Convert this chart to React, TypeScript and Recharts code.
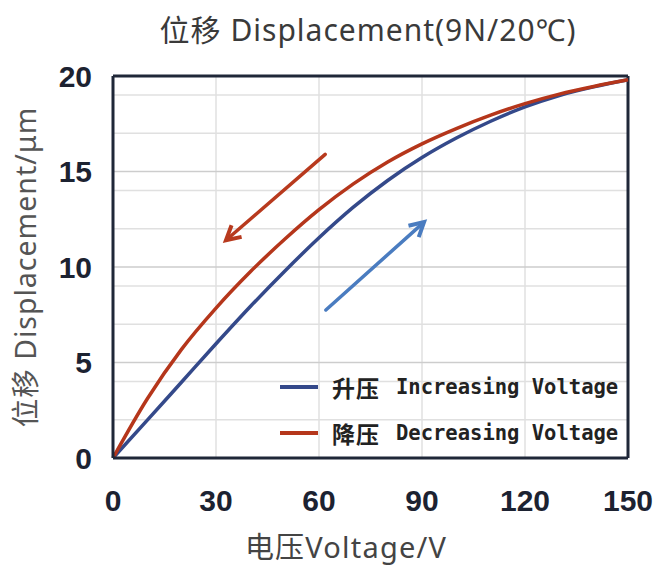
import {
  CartesianGrid,
  Legend,
  Line,
  LineChart,
  ReferenceLine,
  XAxis,
  YAxis,
} from "recharts";

// voltage (V) sampled every 10 V
const VOLTAGE = [0, 10, 20, 30, 40, 50, 60, 70, 80, 90, 100, 110, 120, 130, 140, 150];
// displacement (µm) while raising the voltage
const INCREASING = [0, 1.98, 3.98, 5.98, 7.93, 9.78, 11.53, 13.13, 14.53, 15.73, 16.75, 17.63, 18.38, 18.98, 19.43, 19.8];
// displacement (µm) while lowering the voltage
const DECREASING = [0, 3.1, 5.7, 7.85, 9.75, 11.45, 13.0, 14.35, 15.5, 16.45, 17.25, 17.95, 18.55, 19.05, 19.45, 19.8];

const X_TICKS = [0, 30, 60, 90, 120, 150];
const Y_TICKS = [0, 5, 10, 15, 20];
const Y_MINOR = [1, 2, 3, 4, 6, 7, 8, 9, 11, 12, 13, 14, 16, 17, 18, 19];
const Y_MAJOR = [5, 10, 15];

// direction arrows, in data units: [fromV, fromD, toV, toD]
const DOWN_ARROW = [61.8, 15.9, 32.9, 11.4];
const UP_ARROW = [62, 7.75, 90.6, 12.35];

const SERIES = [
  { key: "inc", cjk: "升压", en: "Increasing Voltage", color: "#34498a" },
  { key: "dec", cjk: "降压", en: "Decreasing Voltage", color: "#b5361b" },
];

const data = VOLTAGE.map((v, i) => ({ v, inc: INCREASING[i], dec: DECREASING[i] }));

const BORDER = "#1f2738";
const TICK = { fill: "#1c2231", fontSize: 30, fontWeight: 700, fontFamily: "Liberation Sans, Arial, sans-serif" };
const LABEL_FONT = "'Noto Sans', 'Noto Sans CJK SC', sans-serif";

function arrowShape(color: string) {
  return (p: any) => {
    const { x1, y1, x2, y2 } = p;
    const a = Math.atan2(y2 - y1, x2 - x1);
    const len = 16;
    const spread = 0.5;
    const ax = x2 - len * Math.cos(a - spread);
    const ay = y2 - len * Math.sin(a - spread);
    const bx = x2 - len * Math.cos(a + spread);
    const by = y2 - len * Math.sin(a + spread);
    return (
      <g>
        <line x1={x1} y1={y1} x2={x2 - 3 * Math.cos(a)} y2={y2 - 3 * Math.sin(a)} stroke={color} strokeWidth={3.5} strokeLinecap="round" />
        <polyline points={`${ax},${ay} ${x2},${y2} ${bx},${by}`} fill="none" stroke={color} strokeWidth={4} strokeLinejoin="miter" />
      </g>
    );
  };
}

function LegendBox() {
  return (
    <div style={{ fontFamily: "'DejaVu Sans Mono', 'Noto Sans CJK SC', monospace", fontWeight: 700, fontSize: 20.5, color: "#222" }}>
      {SERIES.map((s) => (
        <div key={s.key} style={{ display: "flex", alignItems: "center", height: 46 }}>
          <svg width={52} height={10}>
            <line x1={0} y1={5} x2={38} y2={5} stroke={s.color} strokeWidth={4} />
          </svg>
          <span style={{ fontSize: 23, fontFamily: "'Noto Sans CJK SC', sans-serif", letterSpacing: 1, width: 64 }}>{s.cjk}</span>
          <span style={{ whiteSpace: "pre" }}>{s.en}</span>
        </div>
      ))}
    </div>
  );
}

export default function App() {
  return (
    <div style={{ position: "absolute", left: 0, top: 0, width: 660, height: 566, background: "#fff" }}>
      <div
        style={{
          position: "absolute",
          left: 0,
          width: 736,
          top: 6,
          textAlign: "center",
          fontFamily: LABEL_FONT,
          fontSize: 30,
          letterSpacing: 1,
          color: "#3a3a3a",
          whiteSpace: "nowrap",
        }}
      >
        位移 Displacement(9N/20℃)
      </div>
      <LineChart width={660} height={566} data={data} margin={{ top: 76, right: 32, left: 0, bottom: 0 }}>
        <CartesianGrid horizontalValues={Y_MINOR} verticalValues={X_TICKS} stroke="#e0e0e0" strokeWidth={1.5} />
        {Y_MAJOR.map((y) => (
          <ReferenceLine key={y} y={y} stroke="#cdcdcd" strokeWidth={1.5} />
        ))}
        <XAxis
          dataKey="v"
          type="number"
          domain={[0, 150]}
          ticks={X_TICKS}
          height={108}
          tick={TICK}
          tickLine={false}
          tickSize={0}
          tickMargin={32}
          axisLine={{ stroke: BORDER, strokeWidth: 3 }}
          label={{
            content: () => (
              <text x={346} y={558} textAnchor="middle" fontFamily={LABEL_FONT} fontSize={29} letterSpacing={1.2} fill="#444">
                电压Voltage/V
              </text>
            ),
          }}
        />
        <YAxis
          type="number"
          domain={[0, 20]}
          ticks={Y_TICKS}
          width={113}
          tick={TICK}
          tickLine={false}
          tickSize={0}
          tickMargin={21}
          axisLine={{ stroke: BORDER, strokeWidth: 3 }}
          label={{
            content: (p: any) => {
              const cy = p.viewBox.y + p.viewBox.height / 2;
              return (
                <text x={25} y={cy} transform={`rotate(-90 25 ${cy})`} textAnchor="middle" dominantBaseline="central" fontFamily={LABEL_FONT} fontSize={28.5} letterSpacing={1} fill="#555">
                  位移 Displacement/μm
                </text>
              );
            },
          }}
        />
        <ReferenceLine y={20} stroke={BORDER} strokeWidth={3} />
        <ReferenceLine x={150} stroke={BORDER} strokeWidth={3} />
        <ReferenceLine
          segment={[{ x: DOWN_ARROW[0], y: DOWN_ARROW[1] }, { x: DOWN_ARROW[2], y: DOWN_ARROW[3] }]}
          shape={arrowShape("#b83a1e")}
        />
        <ReferenceLine
          segment={[{ x: UP_ARROW[0], y: UP_ARROW[1] }, { x: UP_ARROW[2], y: UP_ARROW[3] }]}
          shape={arrowShape("#4a7cc0")}
        />
        {SERIES.map((s) => (
          <Line
            key={s.key}
            type="monotone"
            dataKey={s.key}
            name={s.en}
            stroke={s.color}
            strokeWidth={3.5}
            dot={false}
            isAnimationActive={false}
          />
        ))}
        <Legend
          layout="vertical"
          align="center"
          verticalAlign="middle"
          content={<LegendBox />}
          wrapperStyle={{ left: 280, top: 364, width: 370 }}
        />
      </LineChart>
    </div>
  );
}
